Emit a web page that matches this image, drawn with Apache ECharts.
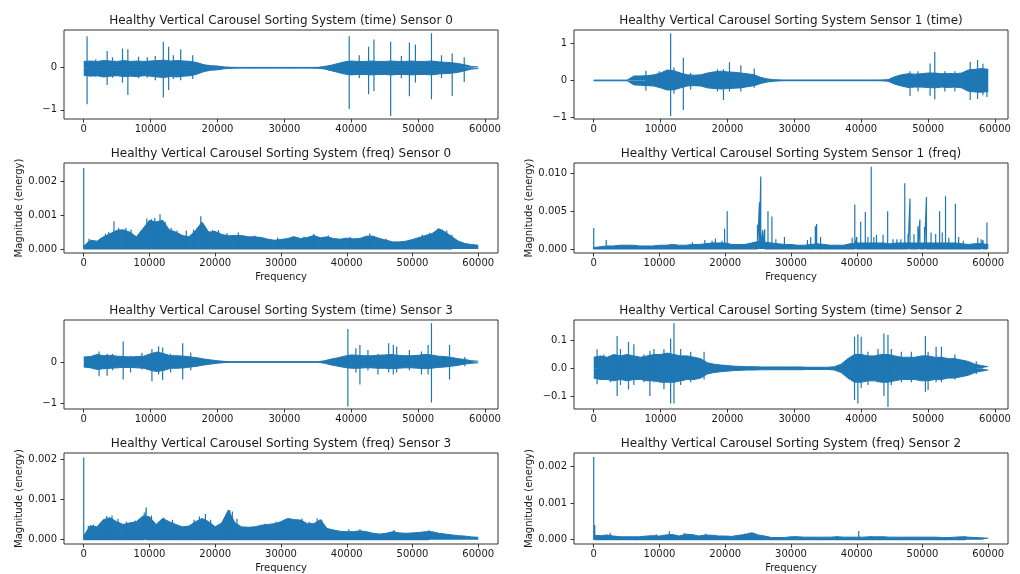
<!DOCTYPE html>
<html>
<head>
<meta charset="utf-8">
<script src="https://cdn.jsdelivr.net/npm/echarts@6/dist/echarts.min.js"></script>
<style>
  html, body { margin: 0; padding: 0; background: #fff; }
  #main { width: 1020px; height: 574px; }
</style>
</head>
<body>
<div id="main"></div>
<script>
// ---- data ----
// time envelopes: one value per 1000 samples, from 0 to 59000
const t0Hi = [0.15,0.16,0.15,0.17,0.16,0.15,0.17,0.15,0.16,0.15,0.16,0.17,0.18,0.16,0.17,0.16,0.15,0.12,0.07,0.05,
  0.04,0.02,0.01,0.008,0.008,0.008,0.008,0.008,0.008,0.008,0.008,0.008,0.008,0.008,0.008,0.01,0.03,0.06,0.1,0.14,
  0.16,0.15,0.15,0.16,0.15,0.15,0.16,0.15,0.15,0.16,0.15,0.15,0.16,0.14,0.13,0.12,0.1,0.07,0.03,0.02];
const t0Lo = [-0.18,-0.2,-0.19,-0.22,-0.2,-0.19,-0.21,-0.2,-0.21,-0.19,-0.2,-0.22,-0.23,-0.21,-0.22,-0.2,-0.19,-0.15,-0.09,-0.06,
  -0.05,-0.025,-0.012,-0.008,-0.008,-0.008,-0.008,-0.008,-0.008,-0.008,-0.008,-0.008,-0.008,-0.008,-0.008,-0.012,-0.03,-0.07,-0.11,-0.15,
  -0.17,-0.16,-0.16,-0.17,-0.16,-0.16,-0.17,-0.16,-0.16,-0.17,-0.16,-0.16,-0.17,-0.15,-0.14,-0.13,-0.11,-0.07,-0.03,-0.02];
// [x, up, down]
const t0Spikes = [[500,0.75,-0.87],[1800,0.2,-0.22],[3500,0.4,-0.41],[4300,0.25,-0.24],[5800,0.46,-0.36],[6600,0.44,-0.65],
  [8200,0.26,-0.25],[9500,0.25,-0.24],[10700,0.28,-0.3],[11900,0.62,-0.71],[12700,0.5,-0.53],[13400,0.3,-0.27],
  [14500,0.44,-0.3],[16300,0.3,-0.27],[39700,0.75,-0.98],[41200,0.3,-0.25],[42600,0.5,-0.63],[43400,0.67,-0.56],
  [45900,0.62,-1.15],[47500,0.28,-0.25],[48700,0.6,-0.68],[49600,0.55,-0.35],[52000,0.82,-0.75],[53500,0.3,-0.25],
  [55100,0.34,-0.67],[56900,0.25,-0.34]];

const t1Hi = [0.01,0.01,0.01,0.01,0.01,0.01,0.12,0.12,0.13,0.15,0.2,0.28,0.26,0.2,0.15,0.14,0.15,0.2,0.23,0.25,
  0.23,0.22,0.2,0.18,0.15,0.08,0.04,0.02,0.01,0.008,0.008,0.008,0.008,0.008,0.008,0.008,0.008,0.008,0.008,0.008,
  0.008,0.008,0.008,0.01,0.02,0.1,0.15,0.18,0.17,0.18,0.2,0.2,0.18,0.19,0.18,0.2,0.28,0.3,0.32,0.3];
const t1Lo = [-0.01,-0.01,-0.01,-0.01,-0.01,-0.01,-0.12,-0.13,-0.14,-0.15,-0.2,-0.26,-0.25,-0.2,-0.15,-0.14,-0.15,-0.2,-0.22,-0.23,
  -0.22,-0.21,-0.2,-0.17,-0.14,-0.08,-0.04,-0.02,-0.01,-0.008,-0.008,-0.008,-0.008,-0.008,-0.008,-0.008,-0.008,-0.008,-0.008,-0.008,
  -0.008,-0.008,-0.008,-0.01,-0.02,-0.1,-0.15,-0.19,-0.18,-0.18,-0.19,-0.2,-0.18,-0.19,-0.18,-0.2,-0.29,-0.31,-0.32,-0.3];
const t1Spikes = [[7800,0.26,-0.28],[9800,0.25,-0.2],[11500,1.27,-0.96],[12000,0.35,-0.35],[13400,0.61,-0.8],
  [14500,0.2,-0.25],[18500,0.3,-0.3],[19400,0.3,-0.53],[20300,0.49,-0.3],[22000,0.41,-0.3],[24000,0.32,-0.2],
  [47300,0.25,-0.42],[48500,0.25,-0.3],[50300,0.46,-0.41],[51000,0.77,-0.51],[52500,0.25,-0.3],[54000,0.25,-0.3],
  [56300,0.5,-0.53],[57400,0.55,-0.5],[58200,0.45,-0.4],[58800,0.3,-0.45]];

const t3Hi = [0.12,0.13,0.18,0.15,0.16,0.14,0.13,0.12,0.13,0.14,0.2,0.24,0.2,0.15,0.15,0.14,0.12,0.1,0.07,0.05,
  0.03,0.015,0.006,0.006,0.006,0.006,0.006,0.006,0.006,0.006,0.006,0.006,0.006,0.006,0.006,0.006,0.03,0.07,0.1,0.14,
  0.17,0.16,0.15,0.15,0.16,0.17,0.18,0.16,0.15,0.15,0.16,0.18,0.17,0.14,0.13,0.11,0.08,0.06,0.03,0.02];
const t3Lo = [-0.12,-0.14,-0.18,-0.16,-0.15,-0.14,-0.13,-0.13,-0.14,-0.15,-0.2,-0.23,-0.2,-0.15,-0.15,-0.14,-0.12,-0.1,-0.07,-0.05,
  -0.03,-0.015,-0.006,-0.006,-0.006,-0.006,-0.006,-0.006,-0.006,-0.006,-0.006,-0.006,-0.006,-0.006,-0.006,-0.006,-0.03,-0.07,-0.1,-0.13,
  -0.15,-0.15,-0.14,-0.14,-0.15,-0.15,-0.16,-0.15,-0.14,-0.14,-0.15,-0.16,-0.15,-0.13,-0.12,-0.1,-0.08,-0.05,-0.03,-0.02];
const t3Spikes = [[2300,0.25,-0.34],[3500,0.2,-0.33],[4300,0.2,-0.2],[5900,0.49,-0.42],[7000,0.15,-0.25],[8700,0.22,-0.18],
  [10200,0.31,-0.46],[11200,0.38,-0.3],[11800,0.35,-0.43],[13000,0.2,-0.25],[14800,0.45,-0.42],[16000,0.23,-0.2],
  [39500,0.79,-1.07],[40700,0.33,-0.25],[41300,0.41,-0.54],[42500,0.29,-0.2],[44000,0.2,-0.3],[45600,0.45,-0.25],
  [46300,0.41,-0.3],[46800,0.37,-0.25],[48700,0.29,-0.2],[50500,0.25,-0.3],[51500,0.41,-0.3],[52000,0.93,-0.97],
  [54700,0.41,-0.42],[57000,0.12,-0.1]];

const t2Hi = [0.04,0.045,0.04,0.05,0.045,0.05,0.045,0.04,0.045,0.05,0.05,0.055,0.05,0.045,0.045,0.04,0.035,0.02,0.015,0.012,
  0.01,0.008,0.007,0.006,0.006,0.005,0.005,0.005,0.005,0.005,0.005,0.005,0.004,0.004,0.004,0.004,0.006,0.015,0.035,0.05,
  0.05,0.045,0.045,0.05,0.05,0.045,0.04,0.04,0.04,0.045,0.045,0.04,0.04,0.035,0.035,0.03,0.025,0.015,0.01,0.006];
const t2Lo = [-0.035,-0.04,-0.04,-0.045,-0.04,-0.045,-0.04,-0.04,-0.045,-0.045,-0.05,-0.05,-0.05,-0.045,-0.04,-0.04,-0.035,-0.02,-0.015,-0.012,
  -0.01,-0.008,-0.007,-0.006,-0.006,-0.005,-0.005,-0.005,-0.005,-0.005,-0.005,-0.005,-0.004,-0.004,-0.004,-0.004,-0.006,-0.015,-0.035,-0.05,
  -0.05,-0.045,-0.045,-0.05,-0.05,-0.045,-0.04,-0.04,-0.04,-0.045,-0.045,-0.04,-0.04,-0.035,-0.035,-0.03,-0.025,-0.015,-0.01,-0.006];
const t2Spikes = [[500,0.069,-0.057],[1500,0.05,-0.04],[2500,0.045,-0.05],[3500,0.117,-0.1],[4000,0.07,-0.06],
  [5200,0.096,-0.076],[6000,0.087,-0.06],[7500,0.05,-0.05],[8400,0.063,-0.1],[9000,0.07,-0.05],[10500,0.069,-0.075],
  [11500,0.108,-0.127],[12000,0.163,-0.127],[13000,0.07,-0.06],[14500,0.06,-0.05],[16500,0.06,-0.04],
  [39000,0.114,-0.114],[39500,0.123,-0.127],[40000,0.114,-0.07],[41000,0.06,-0.06],[42500,0.07,-0.05],
  [43400,0.126,-0.1],[44000,0.12,-0.139],[44500,0.07,-0.06],[46000,0.06,-0.05],[47500,0.06,-0.05],
  [49600,0.117,-0.084],[50000,0.06,-0.078],[51200,0.078,-0.05],[52000,0.078,-0.05],[54000,0.05,-0.04],[57200,0.026,-0.02]];

// spectrum envelopes: one value per 1000 Hz, from 0 to 60000
const f0Env = [0.00008,0.00026,0.00023,0.00036,0.00045,0.00055,0.00057,0.0005,0.00036,0.0006,0.00085,0.0008,0.00085,0.00057,0.0005,
  0.0004,0.00036,0.00055,0.0008,0.0005,0.00052,0.00043,0.00039,0.0004,0.0004,0.00036,0.00036,0.00034,0.00029,0.00026,
  0.00028,0.00031,0.00036,0.00031,0.00034,0.0004,0.00033,0.00036,0.00031,0.00029,0.00032,0.0003,0.00031,0.00038,0.00038,
  0.00031,0.00026,0.00021,0.00021,0.00023,0.00028,0.00034,0.0004,0.00046,0.0006,0.0005,0.00036,0.00023,0.00016,0.00013,0.00011];
const f0Spikes = [[0,0.0024],[800,0.0003],[2600,0.00033],[3300,0.00045],[3800,0.0005],[4600,0.00082],[5300,0.00062],
  [6400,0.00063],[7200,0.00058],[8700,0.00055],[9600,0.0009],[10300,0.00088],[10800,0.00092],[11600,0.00103],
  [12400,0.0008],[13300,0.00062],[14200,0.00055],[15600,0.00055],[16700,0.00058],[17800,0.00097],[18300,0.0007],
  [19600,0.00056],[20500,0.00056],[21800,0.00047],[23500,0.00049],[26000,0.0004],[29500,0.00034],[31800,0.00038],
  [33500,0.00037],[35000,0.00045],[37200,0.0004],[40500,0.00036],[43500,0.00046],[46000,0.0003],[51500,0.00042],
  [52600,0.00048],[53800,0.0006],[54500,0.00058],[55200,0.00055],[56000,0.00042]];

const f1Env = [0.0002,0.0003,0.0004,0.0004,0.0005,0.0005,0.0005,0.0004,0.0004,0.0004,0.0005,0.0005,0.0006,0.0005,0.0005,
  0.0006,0.0006,0.0007,0.0008,0.0008,0.0008,0.0006,0.0006,0.0006,0.0008,0.001,0.0009,0.0008,0.0007,0.0006,
  0.0006,0.0005,0.0005,0.0006,0.0007,0.0006,0.0005,0.0005,0.0005,0.0007,0.0008,0.0008,0.0008,0.0008,0.0008,
  0.0007,0.0008,0.0008,0.0008,0.0008,0.0008,0.0008,0.0008,0.0008,0.0008,0.0008,0.0007,0.0006,0.0007,0.0007,0.0006];
const f1Spikes = [[0,0.0028],[1900,0.0012],[15000,0.0009],[16900,0.0012],[18000,0.0011],[18500,0.0014],[19500,0.0011],
  [19900,0.0027],[20300,0.005],[24900,0.0032],[25200,0.0062],[25400,0.0096],[25700,0.0025],[26000,0.0026],[26500,0.005],
  [27100,0.0043],[27700,0.0013],[29000,0.0016],[32500,0.0012],[33000,0.0016],[33700,0.003],[33900,0.0033],[34500,0.0016],
  [39300,0.0015],[39700,0.0059],[40000,0.0016],[40600,0.0036],[41300,0.0049],[41700,0.0016],[42200,0.0109],[42600,0.0016],
  [43000,0.0019],[44000,0.0019],[44700,0.005],[45500,0.0013],[46100,0.0013],[46700,0.0013],[47300,0.0087],[47800,0.002],
  [48100,0.0067],[48700,0.002],[49300,0.003],[49600,0.0039],[50300,0.0029],[50600,0.0069],[51300,0.0022],[52000,0.002],
  [52600,0.005],[53000,0.0022],[53500,0.007],[54000,0.0015],[55000,0.006],[55500,0.0016],[56200,0.0011],[58400,0.0015],
  [58900,0.0013],[59200,0.0012],[59800,0.0035]];

const f3Env = [0.0001,0.00035,0.00032,0.0005,0.00055,0.00045,0.00038,0.00042,0.00045,0.00059,0.00057,0.00038,0.00053,0.00045,0.00038,
  0.00032,0.00034,0.00045,0.00053,0.00045,0.00032,0.00042,0.00074,0.00042,0.00032,0.00031,0.00032,0.00036,0.00038,0.0004,
  0.00045,0.00053,0.0005,0.00049,0.0004,0.0004,0.0005,0.00028,0.00024,0.00021,0.0002,0.0002,0.00022,0.0002,0.00016,
  0.00014,0.00016,0.0002,0.00017,0.00016,0.00017,0.00018,0.0002,0.0002,0.00016,0.00014,0.00012,0.0001,0.00009,0.00007,0.00006];
const f3Spikes = [[0,0.00205],[700,0.00035],[1500,0.00038],[3000,0.0005],[3500,0.00059],[4300,0.0006],[5200,0.00052],
  [6500,0.00045],[7800,0.00048],[9200,0.00068],[9500,0.0008],[10300,0.0006],[11500,0.00045],[12200,0.00055],
  [13500,0.0005],[16800,0.0005],[17600,0.00058],[18500,0.00064],[19300,0.0005],[21500,0.0005],[22200,0.00074],
  [22600,0.0007],[23300,0.00052],[27500,0.0004],[29200,0.00045],[30500,0.0005],[31500,0.00053],[32300,0.0005],
  [33200,0.00053],[34300,0.00045],[35500,0.00053],[36200,0.0005],[40300,0.00026],[42000,0.00026],[47200,0.00024],
  [52500,0.00024]];

const f2Env = [0.00012,0.00011,0.00013,0.0001,0.00008,0.00008,0.00008,0.00008,0.0001,0.00011,0.0001,0.00013,0.00014,0.0001,0.00015,
  0.00014,0.0001,0.00013,0.00012,0.0001,0.0001,0.00009,0.00012,0.00014,0.00019,0.00013,0.0001,0.00006,0.00006,0.00006,
  0.00008,0.00008,0.00007,0.00007,0.00007,0.00007,0.00007,0.00008,0.00007,0.00007,0.00007,0.00007,0.00008,0.00008,0.00008,
  0.00007,0.00007,0.00007,0.00007,0.00007,0.00007,0.00007,0.00007,0.00006,0.00006,0.00007,0.00008,0.00007,0.00006,0.00005,0.00004];
const f2Spikes = [[0,0.00225],[150,0.0004],[2500,0.00019],[9500,0.00015],[11500,0.00023],[13800,0.00018],[17000,0.00016],
  [23000,0.00017],[24300,0.00019],[30800,0.0001],[37000,0.0001],[40300,0.00024],[42200,0.0001],[56500,0.0001]];

// tick labels
const xTicks = [0, 10000, 20000, 30000, 40000, 50000, 60000];
const yTicksT0 = [-1, 0], yLabelsT0 = ['\u22121', '0'];
const yTicksT1 = [-1, 0, 1], yLabelsT1 = ['\u22121', '0', '1'];
const yTicksT3 = [-1, 0], yLabelsT3 = ['\u22121', '0'];
const yTicksT2 = [-0.1, 0, 0.1], yLabelsT2 = ['\u22120.1', '0.0', '0.1'];
const yTicksF0 = [0, 0.001, 0.002], yLabelsF0 = ['0.000', '0.001', '0.002'];
const yTicksF1 = [0, 0.005, 0.01], yLabelsF1 = ['0.000', '0.005', '0.010'];
const yTicksF3 = [0, 0.001, 0.002], yLabelsF3 = ['0.000', '0.001', '0.002'];
const yTicksF2 = [0, 0.001, 0.002], yLabelsF2 = ['0.000', '0.001', '0.002'];

const titles = [
  'Healthy Vertical Carousel Sorting System (time) Sensor 0',
  'Healthy Vertical Carousel Sorting System Sensor 1 (time)',
  'Healthy Vertical Carousel Sorting System (freq) Sensor 0',
  'Healthy Vertical Carousel Sorting System Sensor 1 (freq)',
  'Healthy Vertical Carousel Sorting System (time) Sensor 3',
  'Healthy Vertical Carousel Sorting System (time) Sensor 2',
  'Healthy Vertical Carousel Sorting System (freq) Sensor 3',
  'Healthy Vertical Carousel Sorting System (freq) Sensor 2'
];

// ---- layout ----
const C = '#1f77b4';
const TXT = '#1a1a1a';
const FONT = 'DejaVu Sans';
const step = 1000;

const panels = [
  { left: 64,  top: 30,  h: 89, kind: 'time', ymin: -1.22,     ymax: 0.898,    ticks: yTicksT0, labels: yLabelsT0, hi: t0Hi, lo: t0Lo, spikes: t0Spikes },
  { left: 574, top: 30,  h: 89, kind: 'time', ymin: -1.04,     ymax: 1.36,     ticks: yTicksT1, labels: yLabelsT1, hi: t1Hi, lo: t1Lo, spikes: t1Spikes },
  { left: 64,  top: 163, h: 90, kind: 'freq', ymin: -0.00012,  ymax: 0.00255,  ticks: yTicksF0, labels: yLabelsF0, hi: f0Env, spikes: f0Spikes },
  { left: 574, top: 163, h: 90, kind: 'freq', ymin: -0.00053,  ymax: 0.0114,   ticks: yTicksF1, labels: yLabelsF1, hi: f1Env, spikes: f1Spikes },
  { left: 64,  top: 320, h: 89, kind: 'time', ymin: -1.127,    ymax: 1.007,    ticks: yTicksT3, labels: yLabelsT3, hi: t3Hi, lo: t3Lo, spikes: t3Spikes },
  { left: 574, top: 320, h: 89, kind: 'time', ymin: -0.1466,   ymax: 0.1744,   ticks: yTicksT2, labels: yLabelsT2, hi: t2Hi, lo: t2Lo, spikes: t2Spikes },
  { left: 64,  top: 453, h: 91, kind: 'freq', ymin: -0.000107, ymax: 0.00216,  ticks: yTicksF3, labels: yLabelsF3, hi: f3Env, spikes: f3Spikes },
  { left: 574, top: 453, h: 91, kind: 'freq', ymin: -0.000117, ymax: 0.00236,  ticks: yTicksF2, labels: yLabelsF2, hi: f2Env, spikes: f2Spikes }
];
const W = 434;

const grids = [], xAxes = [], yAxes = [], series = [], graphics = [];

panels.forEach((p, k) => {
  grids.push({
    left: p.left, top: p.top, width: W, height: p.h,
    show: true, borderColor: '#333', borderWidth: 1, backgroundColor: 'transparent'
  });
  const isFreq = p.kind === 'freq';
  xAxes.push({
    type: 'value', gridIndex: k, position: 'bottom',
    min: isFreq ? -3000 : -2950, max: isFreq ? 63000 : 61950,
    splitLine: { show: false }, axisLine: { show: false, onZero: false },
    axisTick: { show: true, length: 3.5, customValues: xTicks, lineStyle: { color: '#333' } },
    axisLabel: { customValues: xTicks, color: TXT, fontSize: 10, fontFamily: FONT, margin: 5,
      formatter: (v) => String(v) },
    name: isFreq ? 'Frequency' : '', nameLocation: 'middle', nameGap: 19,
    nameTextStyle: { color: TXT, fontSize: 10, fontFamily: FONT }
  });
  const tickMap = {};
  p.ticks.forEach((t, i) => { tickMap[t] = p.labels[i]; });
  yAxes.push({
    type: 'value', gridIndex: k, position: 'left', min: p.ymin, max: p.ymax,
    splitLine: { show: false }, axisLine: { show: false, onZero: false },
    axisTick: { show: true, length: 3.5, customValues: p.ticks, lineStyle: { color: '#333' } },
    axisLabel: {
      customValues: p.ticks, color: TXT, fontSize: 10, fontFamily: FONT, margin: 7,
      formatter: (v) => tickMap[v] !== undefined ? tickMap[v] : ''
    },
    name: isFreq ? 'Magnitude (energy)' : '', nameLocation: 'middle', nameGap: 38,
    nameTextStyle: { color: TXT, fontSize: 10, fontFamily: FONT }
  });

  const common = {
    type: 'line', xAxisIndex: k, yAxisIndex: k, symbol: 'none', silent: true,
    lineStyle: { color: C, width: 1 }
  };
  // envelope band
  series.push(Object.assign({}, common, {
    data: p.hi.map((v, i) => [i * step, v]),
    areaStyle: { color: C, opacity: 1, origin: 'auto' }
  }));
  if (p.lo) {
    series.push(Object.assign({}, common, {
      data: p.lo.map((v, i) => [i * step, v]),
      areaStyle: { color: C, opacity: 1, origin: 'auto' }
    }));
  }
  // spikes
  const pts = [];
  if (isFreq) {
    p.spikes.forEach(([x, y]) => { pts.push([x, 0], [x, y], [x, 0]); });
  } else {
    p.spikes.forEach(([x, u, d]) => { pts.push([x, 0], [x, u], [x, d], [x, 0]); });
  }
  series.push(Object.assign({}, common, { data: pts, lineStyle: { color: C, width: 1.2 } }));

  graphics.push({
    type: 'text', x: p.left + W / 2, y: p.top - 9,
    style: { text: titles[k], fill: TXT, font: '12px "DejaVu Sans"', textAlign: 'center', textVerticalAlign: 'middle' }
  });
});

const chart = echarts.init(document.getElementById('main'), null, { renderer: 'canvas' });
chart.setOption({
  animation: false,
  backgroundColor: '#fff',
  grid: grids,
  xAxis: xAxes,
  yAxis: yAxes,
  series: series,
  graphic: graphics
});
window.addEventListener('resize', function () { chart.resize(); });
</script>
</body>
</html>
